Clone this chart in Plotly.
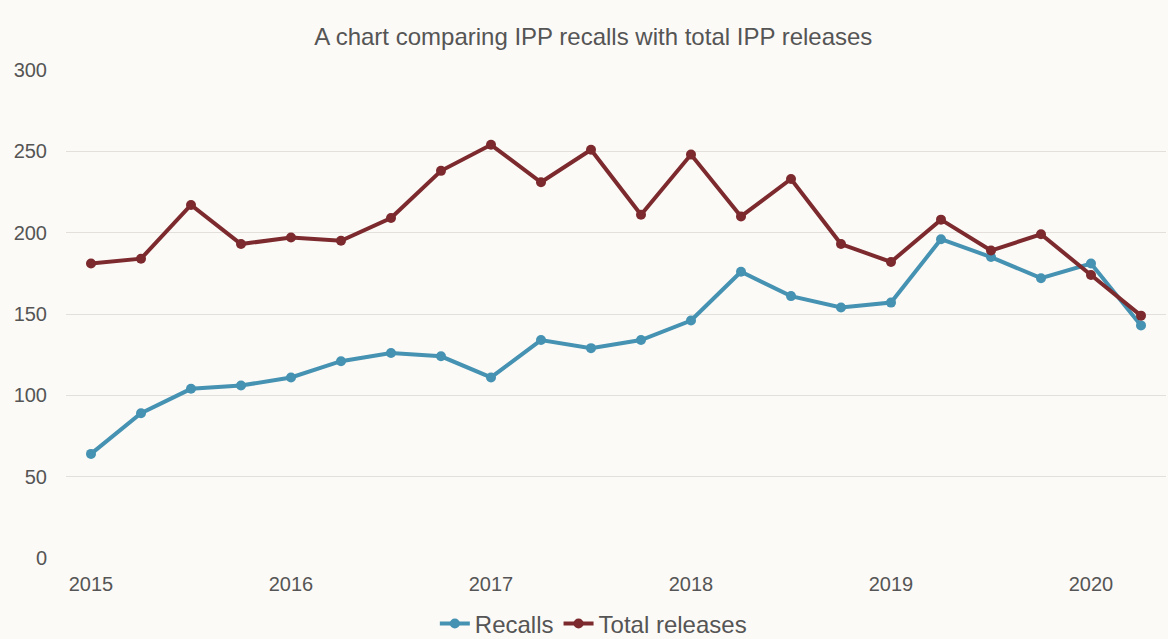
import plotly.graph_objects as go

quarters = ["2015 Q1", "2015 Q2", "2015 Q3", "2015 Q4",
            "2016 Q1", "2016 Q2", "2016 Q3", "2016 Q4",
            "2017 Q1", "2017 Q2", "2017 Q3", "2017 Q4",
            "2018 Q1", "2018 Q2", "2018 Q3", "2018 Q4",
            "2019 Q1", "2019 Q2", "2019 Q3", "2019 Q4",
            "2020 Q1", "2020 Q2"]
recalls = [64, 89, 104, 106, 111, 121, 126, 124, 111, 134, 129, 134,
           146, 176, 161, 154, 157, 196, 185, 172, 181, 143]
total_releases = [181, 184, 217, 193, 197, 195, 209, 238, 254, 231, 251, 211,
                  248, 210, 233, 193, 182, 208, 189, 199, 174, 149]
year_tick_labels = ["2015", "2016", "2017", "2018", "2019", "2020"]
year_tick_positions = ["2015 Q1", "2016 Q1", "2017 Q1", "2018 Q1", "2019 Q1", "2020 Q1"]

BG = "#fcfaf7"
TEAL = "#4592b2"
RED = "#7c2a2d"
FONT = "Liberation Sans, Arial, sans-serif"
TXT = "#555555"

fig = go.Figure()
fig.add_trace(go.Scatter(x=quarters, y=recalls, name="Recalls", mode="lines+markers",
                         line=dict(color=TEAL, width=4), marker=dict(color=TEAL, size=10)))
fig.add_trace(go.Scatter(x=quarters, y=total_releases, name="Total releases", mode="lines+markers",
                         line=dict(color=RED, width=4), marker=dict(color=RED, size=10)))

fig.update_layout(
    width=1168, height=639,
    paper_bgcolor=BG, plot_bgcolor=BG,
    font=dict(family=FONT, color=TXT, size=20),
    title=dict(text="A chart comparing IPP recalls with total IPP releases",
               x=0.508, xanchor="center", y=0.942, yanchor="middle",
               font=dict(size=24, color=TXT)),
    margin=dict(l=66, r=2, t=70, b=81, autoexpand=False),
    showlegend=True,
    legend=dict(orientation="h", xref="container", yref="container",
                x=0.508, xanchor="center", y=0.0235, yanchor="middle",
                font=dict(size=24, color=TXT), bgcolor="rgba(0,0,0,0)",
                itemwidth=30, tracegroupgap=0),
)
fig.update_xaxes(type="category", categoryorder="array", categoryarray=quarters,
                 range=[-0.5, 21.5], tickmode="array",
                 tickvals=year_tick_positions, ticktext=year_tick_labels,
                 showgrid=False, showline=False, zeroline=False, ticks="",
                 ticklabelstandoff=12, tickfont=dict(size=20, color=TXT), automargin=False)
fig.update_yaxes(range=[0, 300], dtick=50, showgrid=True, gridcolor="#e3dfdb",
                 gridwidth=1, zeroline=False, showline=False, ticks="",
                 ticklabelstandoff=18, tickfont=dict(size=20, color=TXT), automargin=False)

fig.write_html("out.html", config={"displayModeBar": False},
               post_script="document.body.style.margin='0';document.body.style.background='" + BG + "';")
